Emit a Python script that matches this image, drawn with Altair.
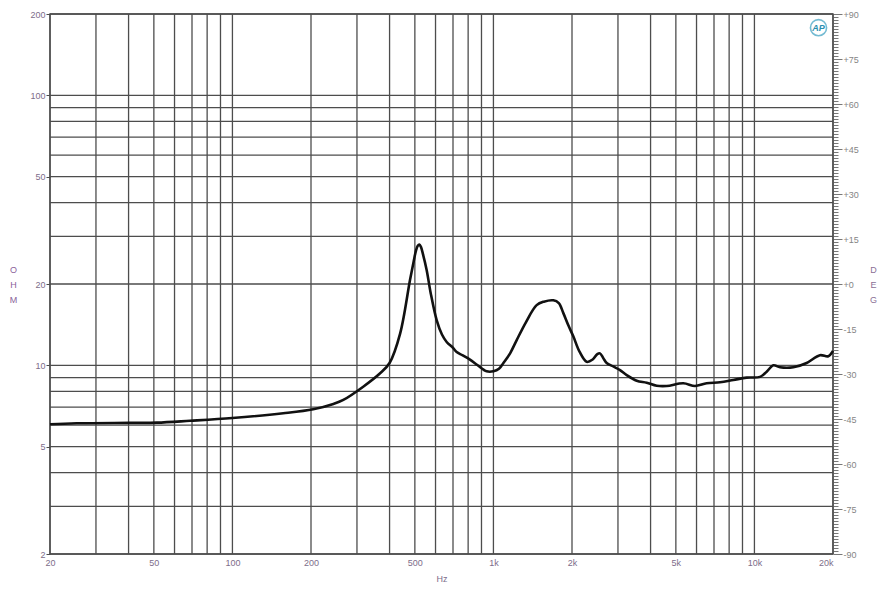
import altair as alt
import pandas as pd

# Impedance curve (Hz, ohm)
freq = [20, 25.3, 40.5, 51.3, 68.8, 100, 156.6, 204, 243.6, 266, 317, 368, 400,
        439, 479, 495, 505, 513, 520, 527, 537, 555, 575, 606, 635, 662, 700, 723, 760, 813,
        870, 942, 1000, 1050, 1092, 1160, 1228, 1330, 1464, 1560, 1696, 1780, 1853, 1940,
        2023, 2140, 2276, 2400, 2500, 2560, 2640, 2716, 2879, 3055, 3240, 3540, 3866,
        4222, 4612, 5340, 5920, 6560, 7380, 8300, 9340, 10504, 11140, 11812, 12530,
        14090, 15850, 17830, 19180, 20000]
ohm = [6.05, 6.1, 6.12, 6.13, 6.23, 6.38, 6.64, 6.87, 7.19, 7.44, 8.33, 9.34, 10.2,
       13.1, 20.7, 24.3, 26.6, 27.7, 28.0, 27.5, 25.8, 22.5, 18.5, 14.7, 13.0, 12.2, 11.6, 11.2,
       10.9, 10.5, 10.0, 9.5, 9.5, 9.7, 10.2, 11.1, 12.4, 14.4, 16.7, 17.2, 17.4, 17.0,
       15.6, 14.0, 12.8, 11.2, 10.3, 10.5, 11.0, 11.07, 10.6, 10.2, 9.9, 9.6, 9.2, 8.77,
       8.62, 8.4, 8.38, 8.58, 8.38, 8.58, 8.65, 8.82, 9.0, 9.06, 9.47, 10.0, 9.83, 9.83,
       10.2, 10.9, 10.8, 11.3]

# Axes / grid
freq_grid = [20, 30, 40, 50, 60, 70, 80, 90, 100, 200, 300, 400, 500, 600, 700, 800, 900,
             1000, 2000, 3000, 4000, 5000, 6000, 7000, 8000, 9000, 10000, 20000]
freq_labels = [20, 50, 100, 200, 500, 1000, 2000, 5000, 10000, 20000]
ohm_grid = [2, 3, 4, 5, 6, 7, 8, 9, 10, 20, 30, 40, 50, 60, 70, 80, 90, 100, 200]
ohm_labels = [2, 5, 10, 20, 50, 100, 200]
deg_ticks = list(range(-90, 91, 1))
deg_range = [-90, 90]

FONT = "Liberation Sans"
GRID = "#4d4d4d"
LBL = "#7d6d8a"

xscale = alt.Scale(type="log", domain=[20, 20000], nice=False)
yscale = alt.Scale(type="log", domain=[2, 200], nice=False)

label_expr_x = ("datum.value >= 1000 ? format(datum.value/1000, 'd') + 'k' : format(datum.value, 'd')")
xaxis = alt.Axis(
    values=freq_labels, labelExpr=label_expr_x, grid=False, ticks=False,
    domain=False, labelColor=LBL, labelFont=FONT, labelFontSize=9,
    labelPadding=4, labelOverlap=False, labelBound=False,
    labelAlign=alt.condition("datum.value >= 20000", alt.value("right"), alt.value("center")),
    title="Hz", titleFont=FONT, titleFontSize=9, titleFontWeight="normal",
    titleColor=LBL, titleY=24, titleBaseline="middle")

curve_df = pd.DataFrame({"f": freq, "z": ohm})
fgrid_df = pd.DataFrame({"f": freq_grid})
zgrid_df = pd.DataFrame({"z": ohm_grid})
deg_df = pd.DataFrame({"d": deg_range})
logo_df = pd.DataFrame({"f": [17600], "z": [178], "t": ["AP"]})

grid_x = alt.Chart(fgrid_df).mark_rule(color=GRID, strokeWidth=1.3).encode(
    x=alt.X("f:Q", scale=xscale, axis=xaxis)
)
grid_y = alt.Chart(zgrid_df).mark_rule(color=GRID, strokeWidth=1.3).encode(
    y=alt.Y("z:Q", scale=yscale, axis=None)
)

curve = alt.Chart(curve_df).mark_line(
    color="#111111", strokeWidth=2.6, interpolate="catmull-rom"
).encode(
    x=alt.X("f:Q", scale=xscale, axis=xaxis),
    y=alt.Y("z:Q", scale=yscale, axis=alt.Axis(
        values=ohm_labels, format="d", grid=False, ticks=True, tickSize=4,
        tickColor=GRID, domain=False, labelColor=LBL, labelFont=FONT, labelFontSize=9,
        labelPadding=1, labelOverlap=False,
        title=["O", "H", "M"], titleAngle=0, titleFont=FONT, titleFontSize=9,
        titleFontWeight="normal", titleColor="#8a5f9a", titleLineHeight=15,
        titleX=-37, titleY=255, titleAlign="center", titleBaseline="middle")),
)

logo_ring = alt.Chart(logo_df).mark_point(
    shape="circle", filled=False, color="#3a9fc0", size=260, strokeWidth=1.6
).encode(
    x=alt.X("f:Q", scale=xscale, axis=xaxis),
    y=alt.Y("z:Q", scale=yscale, axis=None),
)
logo = alt.Chart(logo_df).mark_text(
    color="#2a8fb0", font=FONT, fontSize=9, fontStyle="italic", fontWeight="bold"
).encode(
    x=alt.X("f:Q", scale=xscale, axis=xaxis),
    y=alt.Y("z:Q", scale=yscale, axis=None),
    text="t:N",
)

deg_label = ("datum.value % 15 === 0 ? (datum.value >= 0 ? '+' + datum.value : '' + datum.value) : ''")
deg_layer = alt.Chart(deg_df).mark_point(opacity=0).encode(
    y=alt.Y("d:Q", scale=alt.Scale(domain=[-90, 90], nice=False), axis=alt.Axis(
        orient="right", values=deg_ticks, labelExpr=deg_label, grid=False,
        domain=False, tickColor="#777777", tickWidth=1,
        tickSize=alt.condition("datum.value % 15 === 0", alt.value(9), alt.value(5)),
        labelColor="#858585", labelFont=FONT, labelFontSize=9, labelPadding=1,
        labelOverlap=False, labelBound=False, labelBaseline="middle",
        title=["D", "E", "G"], titleAngle=0, titleFont=FONT, titleFontSize=9,
        titleFontWeight="normal", titleColor="#8a6f95", titleLineHeight=15,
        titleX=40, titleY=255, titleAlign="center", titleBaseline="middle")),
)

chart = alt.layer(grid_x, grid_y, curve, logo_ring, logo, deg_layer).resolve_scale(
    y="independent"
).properties(
    width=783, height=540,
    autosize=alt.AutoSizeParams(type="none"),
    padding={"left": 42, "top": 6, "right": 44, "bottom": 40},
    background="white",
).configure_view(stroke="#555555", strokeWidth=1.5)

chart.save("out.html", embed_options={"renderer": "svg", "actions": False})
